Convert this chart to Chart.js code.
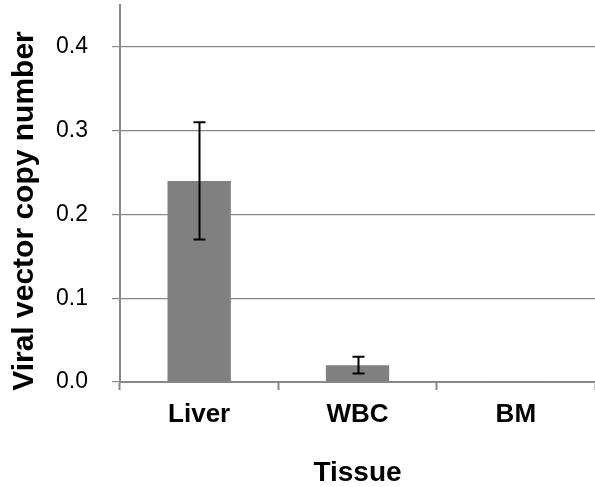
<!DOCTYPE html>
<html>
<head>
<meta charset="utf-8">
<script src="https://cdn.jsdelivr.net/npm/chart.js@4/dist/chart.umd.min.js"></script>
<style>
  html, body { margin: 0; padding: 0; background: #fff; }
  #wrap { width: 595px; height: 487px; }
</style>
</head>
<body>
<div id="wrap"><canvas id="chart" width="595" height="487"></canvas></div>
<script>
var tissues = ['Liver', 'WBC', 'BM'];
var copyNumber = [0.24, 0.02, 0.001];
var copyNumberErr = [0.07, 0.01, 0];
var yTicks = [0, 0.1, 0.2, 0.3, 0.4];

var gridGray = '#888888';

// error bars drawn on top of the bars
var errorBars = {
    id: 'errorBars',
    afterDatasetsDraw: function (chart) {
        var ctx = chart.ctx;
        var y = chart.scales.y;
        var meta = chart.getDatasetMeta(0);
        ctx.save();
        ctx.strokeStyle = '#000';
        ctx.lineWidth = 2;
        meta.data.forEach(function (bar, i) {
            var err = copyNumberErr[i];
            if (!err) return;
            var x = Math.round(bar.x) + 0.5;
            var top = y.getPixelForValue(copyNumber[i] + err);
            var bot = y.getPixelForValue(copyNumber[i] - err);
            ctx.beginPath();
            ctx.moveTo(x, top); ctx.lineTo(x, bot);
            ctx.moveTo(x - 6, top); ctx.lineTo(x + 6, top);
            ctx.moveTo(x - 6, bot); ctx.lineTo(x + 6, bot);
            ctx.stroke();
        });
        ctx.restore();
    }
};

// y title placed like the original (not centred on the plot area)
var yTitle = {
    id: 'yTitle',
    afterDraw: function (chart) {
        var ctx = chart.ctx;
        ctx.save();
        ctx.translate(33, 211);
        ctx.rotate(-Math.PI / 2);
        ctx.font = 'bold 30px "Liberation Sans", Arial, sans-serif';
        ctx.fillStyle = '#000';
        ctx.textAlign = 'center';
        ctx.textBaseline = 'alphabetic';
        ctx.fillText('Viral vector copy number', 0, 0);
        ctx.restore();
    }
};

var ctx = document.getElementById('chart').getContext('2d');
new Chart(ctx, {
    type: 'bar',
    data: {
        labels: tissues,
        datasets: [{
            data: copyNumber,
            backgroundColor: '#808080',
            borderWidth: 0,
            barPercentage: 0.4,
            categoryPercentage: 1.0
        }]
    },
    options: {
        responsive: false,
        animation: false,
        layout: { padding: { top: 5, right: 0, left: 0, bottom: 0 } },
        plugins: {
            legend: { display: false },
            tooltip: { enabled: false }
        },
        scales: {
            x: {
                offset: true,
                grid: {
                    offset: true,
                    drawOnChartArea: false,
                    color: gridGray,
                    tickLength: 8,
                    tickWidth: 2
                },
                border: { color: gridGray, width: 2 },
                ticks: {
                    color: '#000',
                    padding: 9,
                    font: { family: '"Liberation Sans", Arial, sans-serif', size: 26, weight: 'bold' }
                },
                title: {
                    display: true,
                    text: 'Tissue',
                    color: '#000',
                    padding: { top: 0, bottom: -3 },
                    font: { family: '"Liberation Sans", Arial, sans-serif', size: 28, weight: 'bold' }
                },
                afterFit: function (scale) {
                    scale.height = 105;
                    scale.paddingLeft = 0;
                    scale.paddingRight = 0;
                }
            },
            y: {
                min: 0,
                max: 0.45,
                grid: {
                    color: gridGray,
                    lineWidth: 1.2,
                    tickLength: 8
                },
                border: { color: gridGray, width: 2 },
                ticks: {
                    color: '#000',
                    padding: 24,
                    font: { family: '"Liberation Sans", Arial, sans-serif', size: 23 },
                    callback: function (v) { return v.toFixed(1); }
                },
                afterBuildTicks: function (scale) {
                    scale.ticks = yTicks.map(function (v) { return { value: v }; });
                },
                afterFit: function (scale) {
                    scale.width = 120;
                    scale.paddingTop = 0;
                    scale.paddingBottom = 0;
                }
            }
        }
    },
    plugins: [errorBars, yTitle]
});
</script>
</body>
</html>
